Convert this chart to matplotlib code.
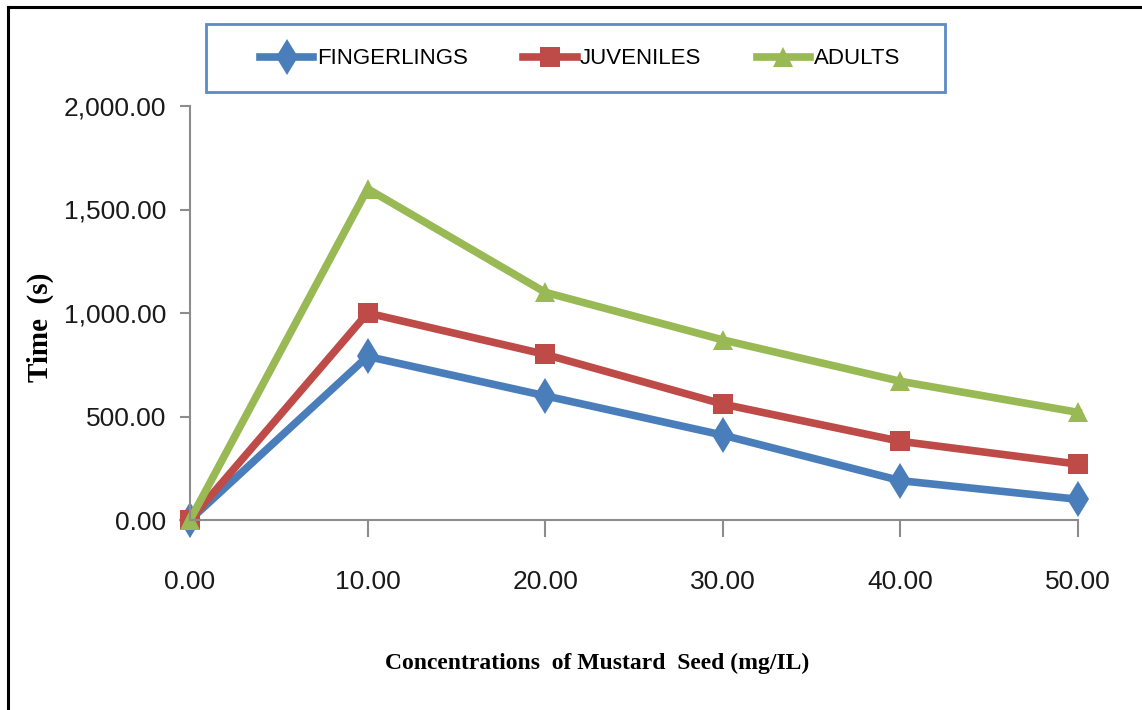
import matplotlib
matplotlib.use('Agg')
import matplotlib.pyplot as plt
from matplotlib.lines import Line2D
from matplotlib.patches import Rectangle
from matplotlib.ticker import FuncFormatter

# data
conc = [0, 10, 20, 30, 40, 50]
fingerlings = [0, 790, 600, 410, 190, 100]
juveniles = [0, 1000, 800, 560, 380, 270]
adults = [0, 1600, 1100, 870, 670, 520]
series_names = ['FINGERLINGS', 'JUVENILES', 'ADULTS']

sans = ['Liberation Sans', 'DejaVu Sans']
serif = ['Liberation Serif', 'DejaVu Serif']

W, H = 1142, 710
fig = plt.figure(figsize=(W / 100, H / 100), dpi=100)
fig.patch.set_facecolor('white')

# outer frame (left and top lines only visible in the crop)
fig.add_artist(Line2D([8 / W, 8 / W], [0, 1 - 7 / H], color='black', lw=2.2,
                      transform=fig.transFigure))
fig.add_artist(Line2D([8 / W, 1], [1 - 7 / H, 1 - 7 / H], color='black', lw=2.2,
                      transform=fig.transFigure))

ax = fig.add_axes([190 / W, 1 - 520 / H, (1078 - 190) / W, (520 - 106) / H])

styles = [
    ('#4A7EBB', 'd', 18),
    ('#BE4B48', 's', 14),
    ('#98B954', '^', 15),
]
handles = []
for vals, name, (col, mk, ms) in zip([fingerlings, juveniles, adults], series_names, styles):
    h, = ax.plot(conc, vals, color=col, lw=5.5, marker=mk, markersize=ms,
                 markeredgewidth=0, label=name, clip_on=False)
    handles.append(h)

ax.set_xlim(0, 50)
ax.set_ylim(0, 2000)
ax.set_xticks(conc)
ax.set_yticks([0, 500, 1000, 1500, 2000])
ax.xaxis.set_major_formatter(FuncFormatter(lambda v, p: f'{v:,.2f}'))
ax.yaxis.set_major_formatter(FuncFormatter(lambda v, p: f'{v:,.2f}'))

for s in ['top', 'right']:
    ax.spines[s].set_visible(False)
for s in ['left', 'bottom']:
    ax.spines[s].set_color('#8C8C8C')
    ax.spines[s].set_linewidth(1.5)

ax.tick_params(axis='x', direction='out', length=12, width=1.5, color='#8C8C8C',
               pad=24, labelsize=19, labelcolor='#1a1a1a')
ax.tick_params(axis='y', direction='out', length=7, width=1.5, color='#8C8C8C',
               pad=10, labelsize=19, labelcolor='#1a1a1a')
for lab in ax.get_xticklabels() + ax.get_yticklabels():
    lab.set_family(sans)

fig.text(40 / W, 1 - 327 / H, 'Time  (s)', rotation=90, ha='center', va='center',
         fontsize=21, fontweight='bold', family=serif)
fig.text(597 / W, 1 - 663 / H, 'Concentrations  of Mustard  Seed (mg/IL)', ha='center',
         va='center', fontsize=17, fontweight='bold', family=serif)

# legend box
fig.add_artist(Rectangle((206 / W, 1 - 92 / H), (945 - 206) / W, 68 / H,
                         transform=fig.transFigure, fill=False,
                         edgecolor='#5B8BC9', lw=2))
fig.legend(handles=handles, loc='center', bbox_to_anchor=(580 / W, 1 - 59 / H),
           ncol=3, frameon=False, prop={'family': sans, 'size': 16},
           handlelength=2.4, handletextpad=0.15, columnspacing=2.5)

fig.savefig('out.png', dpi=100)
